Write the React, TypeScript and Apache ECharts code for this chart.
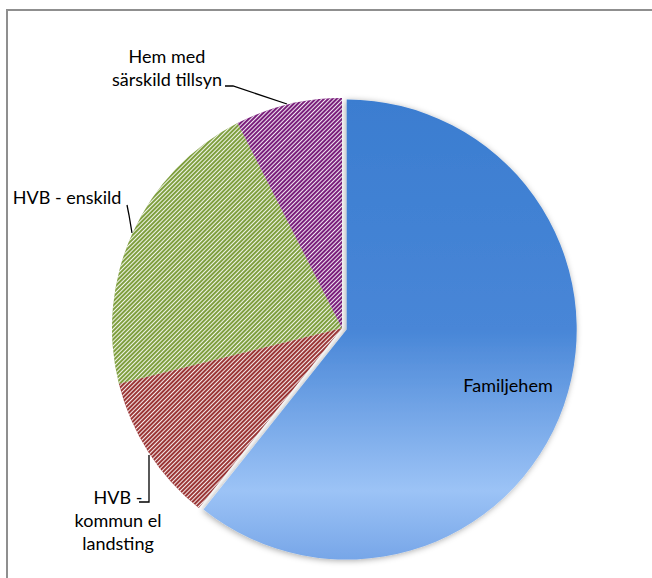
import React, { useEffect, useRef } from "react";
import * as echarts from "echarts";

const categories = ["Familjehem", "HVB -\nkommun el\nlandsting", "HVB - enskild", "Hem med\nsärskild tillsyn"];
const values = [60.7, 10.4, 21.4, 7.5];
const colors = ["#3d7fd0", "#9b3636", "#7f9f3f", "#7a1f7c"];

export default function App() {
  const ref = useRef<HTMLDivElement>(null);
  useEffect(() => {
    const chart = echarts.init(ref.current!, null, { renderer: "svg" });
    const hatch = (c: string) => ({
      symbol: "rect",
      symbolSize: 1,
      color: "rgba(255,255,255,0.9)",
      backgroundColor: c,
      dashArrayX: [1, 0],
      dashArrayY: [0.9, 1.3],
      rotation: -Math.PI / 4,
    });
    const labelSpots: any[] = [
      { x: 508, y: 385, line: null },
      { x: 118, y: 520, line: [[149, 455], [149, 502], [139, 502]] },
      { x: 67, y: 197, line: [[132, 233], [129, 215], [127, 205]] },
      { x: 167, y: 67, line: [[287, 104], [233, 86], [225, 86]] },
    ];
    const blueGrad = new echarts.graphic.LinearGradient(0, 0, 0, 1, [
      { offset: 0, color: "#3b7dd0" },
      { offset: 0.5, color: "#4886d7" },
      { offset: 0.85, color: "#9cc3f6" },
      { offset: 1, color: "#77a6e8" },
    ]);
    chart.setOption({
      animation: false,
      graphic: [
        {
          type: "rect",
          shape: { x: 7, y: 10, width: 700, height: 700 },
          style: { fill: "none", stroke: "#8f8f8f", lineWidth: 2 },
          silent: true,
        },
      ],
      series: [
        {
          type: "pie",
          center: [342, 328],
          radius: 230,
          startAngle: 90,
          clockwise: true,
          silent: true,
          label: {
            show: true,
            position: "outside",
            color: "#000",
            fontFamily: "Lato",
            fontSize: 18,
            lineHeight: 23,
            align: "center",
            overflow: "none",
          },
          labelLine: { show: true, lineStyle: { color: "#000", width: 1.3 }, length: 10, length2: 10 },
          labelLayout: (p: any) => {
            const s = labelSpots[p.dataIndex];
            const r: any = { x: s.x, y: s.y, align: "center", verticalAlign: "middle" };
            if (s.line) r.labelLinePoints = s.line;
            return r;
          },
          data: categories.map((name, i) => {
            if (i === 0) {
              return {
                name,
                value: values[i],
                labelLine: { show: false },
                itemStyle: { color: "rgba(0,0,0,0)" },
              };
            }
            return {
              name,
              value: values[i],
              itemStyle: { color: colors[i], decal: hatch(colors[i]) },
            };
          }),
        },
        {
          type: "pie",
          center: [346.7, 329.6],
          radius: 230,
          startAngle: 90,
          clockwise: true,
          silent: true,
          label: { show: false },
          labelLine: { show: false },
          data: categories.map((name, i) =>
            i === 0
              ? {
                  name,
                  value: values[i],
                  itemStyle: {
                    color: blueGrad,
                    shadowBlur: 6,
                    shadowColor: "rgba(0,0,0,0.35)",
                    shadowOffsetX: -1,
                    shadowOffsetY: 1,
                  },
                }
              : { name, value: values[i], itemStyle: { color: "rgba(0,0,0,0)" } }
          ),
        },
      ],
    });
    return () => chart.dispose();
  }, []);
  return (
    <div
      ref={ref}
      style={{ position: "fixed", left: 0, top: 0, width: 652, height: 578, background: "#fff" }}
    />
  );
}
